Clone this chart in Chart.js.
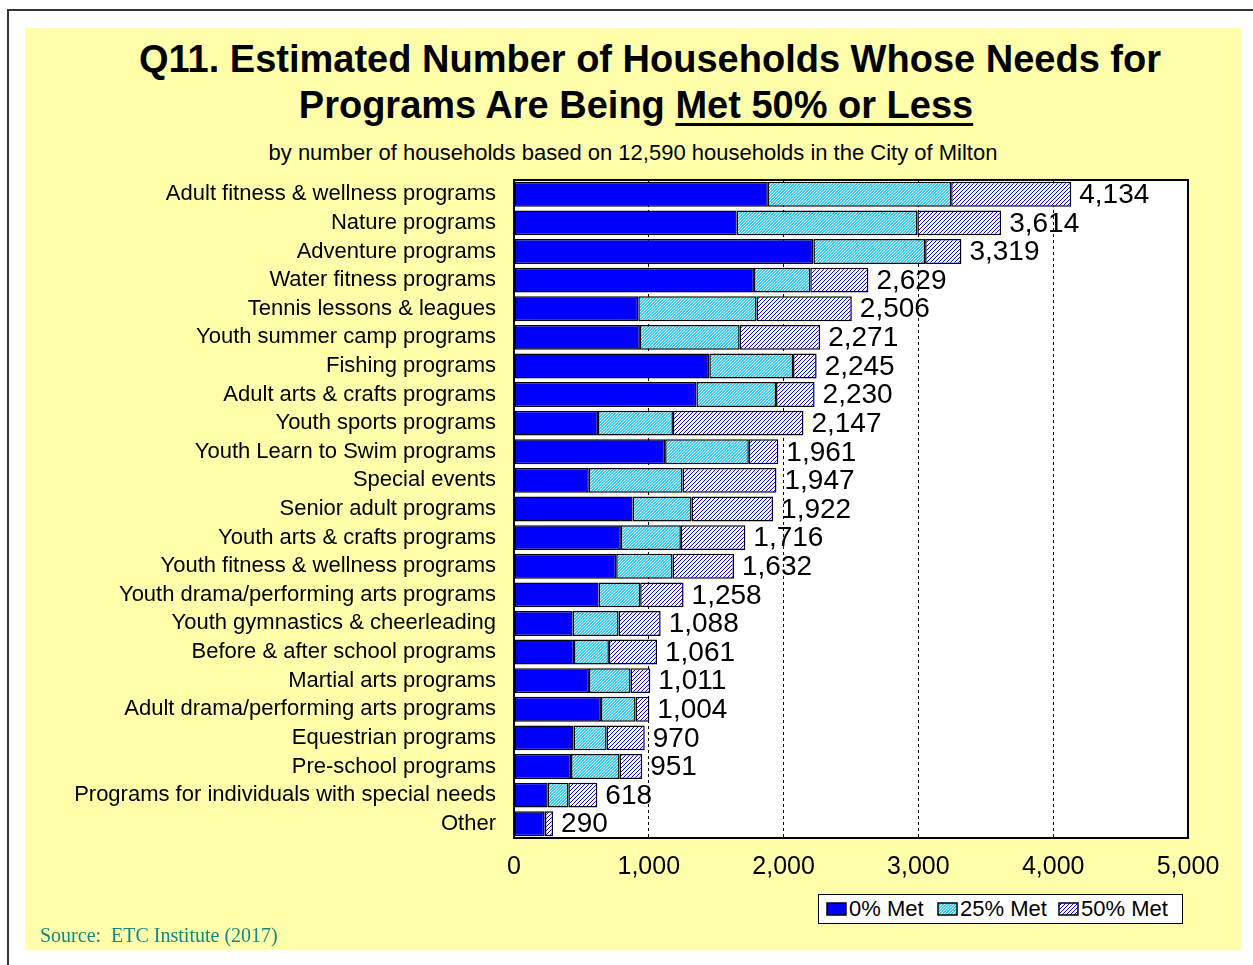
<!DOCTYPE html>
<html>
<head>
<meta charset="utf-8">
<script src="https://cdn.jsdelivr.net/npm/chart.js@4/dist/chart.umd.min.js"></script>
<style>
  html, body { margin: 0; padding: 0; background: #ffffff; }
  body { width: 1253px; height: 965px; position: relative; overflow: hidden; font-family: Arial, "Liberation Sans", sans-serif; }
  #frameTop { position: absolute; left: 7px; top: 9px; width: 1246px; height: 2px; background: #333; }
  #frameLeft { position: absolute; left: 7px; top: 9px; width: 2px; height: 956px; background: #333; }
  #panel { position: absolute; left: 25px; top: 28px; width: 1216px; height: 922px; background: #FFFFAB; }
  .t { position: absolute; white-space: pre; color: #000; }
  #t1 { left: 0; width: 1300px; top: 36px; text-align: center; font-weight: bold; font-size: 38px; line-height: 46px; }
  #t2 { left: 0; width: 1272px; top: 82px; text-align: center; font-weight: bold; font-size: 38px; line-height: 46px; }
  #t2 u { text-decoration-thickness: 3px; text-underline-offset: 5px; }
  #sub { left: 0; width: 1266px; top: 139px; text-align: center; font-size: 22px; line-height: 28px; }
  #src { left: 40px; top: 924px; font-family: "Liberation Serif", "Times New Roman", serif; font-size: 20px; color: #15877F; }
  #chart { position: absolute; left: 0; top: 0; }
  #legend { position: absolute; left: 818px; top: 894px; width: 363px; height: 28px; border: 1px solid #000; background: #fff; }
  .li { position: absolute; top: 0; height: 28px; font-size: 22px; line-height: 28px; white-space: pre; }
  .li canvas { position: absolute; left: 0; top: 7px; }
  .li span { position: absolute; left: 23px; top: 0; }
</style>
</head>
<body>
<div id="frameTop"></div>
<div id="frameLeft"></div>
<div id="panel"></div>
<div class="t" id="t1">Q11. Estimated Number of Households Whose Needs for</div>
<div class="t" id="t2">Programs Are Being <u>Met 50% or Less</u></div>
<div class="t" id="sub">by number of households based on 12,590 households in the City of Milton</div>
<canvas id="chart" width="1253" height="965"></canvas>
<div id="legend">
  <div class="li" style="left:7px"><canvas id="sw0" width="21" height="14"></canvas><span>0% Met</span></div>
  <div class="li" style="left:118px"><canvas id="sw1" width="21" height="14"></canvas><span>25% Met</span></div>
  <div class="li" style="left:239px"><canvas id="sw2" width="21" height="14"></canvas><span>50% Met</span></div>
</div>
<div class="t" id="src">Source:  ETC Institute (2017)</div>

<script>
const categories = [
  "Adult fitness & wellness programs",
  "Nature programs",
  "Adventure programs",
  "Water fitness programs",
  "Tennis lessons & leagues",
  "Youth summer camp programs",
  "Fishing programs",
  "Adult arts & crafts programs",
  "Youth sports programs",
  "Youth Learn to Swim programs",
  "Special events",
  "Senior adult programs",
  "Youth arts & crafts programs",
  "Youth fitness & wellness programs",
  "Youth drama/performing arts programs",
  "Youth gymnastics & cheerleading",
  "Before & after school programs",
  "Martial arts programs",
  "Adult drama/performing arts programs",
  "Equestrian programs",
  "Pre-school programs",
  "Programs for individuals with special needs",
  "Other"
];
const met0 =  [1883, 1652, 2221, 1780,  922,  934, 1449, 1353,  623, 1121,  555,  880,  793,  758,  628,  435,  445,  556,  645,  442,  423,  250, 225];
const met25 = [1360, 1340,  829,  418,  877,  740,  621,  591,  556,  621,  695,  437,  445,  418,  308,  341,  259,  309,  257,  245,  360,  153,   5];
const met50 = [ 891,  622,  269,  431,  707,  597,  175,  286,  968,  219,  697,  605,  478,  456,  322,  312,  357,  146,  102,  283,  168,  215,  60];
const totals = [4134, 3614, 3319, 2629, 2506, 2271, 2245, 2230, 2147, 1961, 1947, 1922, 1716, 1632, 1258, 1088, 1061, 1011, 1004, 970, 951, 618, 290];
const xTicks = [0, 1000, 2000, 3000, 4000, 5000];

// pixel-exact "/" hatch: period p, stripe thickness w (px)
function hatch(bg, fg, p, w) {
  const c = document.createElement('canvas');
  c.width = p; c.height = p;
  const g = c.getContext('2d');
  g.fillStyle = bg; g.fillRect(0, 0, p, p);
  g.fillStyle = fg;
  for (let y = 0; y < p; y++) {
    for (let x = 0; x < p; x++) {
      if ((x + y) % p < w) g.fillRect(x, y, 1, 1);
    }
  }
  return g.createPattern(c, 'repeat');
}
const fill0 = '#0000FF';
const fill25 = hatch('#33CCFF', '#FFFFFF', 3, 1);
const fill50 = hatch('#FFFFFF', '#0000FF', 4, 1);

[fill0, fill25, fill50].forEach((f, i) => {
  const c = document.getElementById('sw' + i);
  const g = c.getContext('2d');
  g.fillStyle = f; g.fillRect(1, 1, 19, 12);
  g.strokeStyle = '#000'; g.lineWidth = 1.5; g.strokeRect(1, 1, 19, 12);
});

const plotDecor = {
  id: 'plotDecor',
  beforeDraw(chart) {
    const a = chart.chartArea, ctx = chart.ctx;
    ctx.save(); ctx.fillStyle = '#FFFFFF';
    ctx.fillRect(a.left, a.top, a.right - a.left, a.bottom - a.top);
    ctx.restore();
  },
  afterDatasetsDraw(chart) {
    const a = chart.chartArea, ctx = chart.ctx;
    const xs = chart.scales.x, ys = chart.scales.y;
    ctx.save();
    ctx.strokeStyle = '#000'; ctx.lineWidth = 2;
    ctx.strokeRect(a.left, a.top, a.right - a.left, a.bottom - a.top);
    ctx.fillStyle = '#000';
    ctx.font = '28px Arial, "Liberation Sans", sans-serif';
    ctx.textAlign = 'left'; ctx.textBaseline = 'middle';
    totals.forEach((t, i) => {
      const x = xs.getPixelForValue(t) + 8;
      const y = ys.getPixelForValue(i);
      ctx.fillText(t.toLocaleString('en-US'), x, y + 1);
    });
    ctx.restore();
  }
};

new Chart(document.getElementById('chart'), {
  type: 'bar',
  data: {
    labels: categories,
    datasets: [
      { label: '0% Met', data: met0, backgroundColor: fill0 },
      { label: '25% Met', data: met25, backgroundColor: fill25 },
      { label: '50% Met', data: met50, backgroundColor: fill50 }
    ].map(d => Object.assign(d, { borderColor: '#000', borderWidth: 1.5, borderSkipped: false, barPercentage: 0.87, categoryPercentage: 1 }))
  },
  options: {
    indexAxis: 'y',
    responsive: false,
    animation: false,
    devicePixelRatio: 1,
    layout: { padding: { left: 0, top: 180, right: 65, bottom: 0 } },
    plugins: { legend: { display: false }, tooltip: { enabled: false }, title: { display: false } },
    scales: {
      x: {
        stacked: true, min: 0, max: 5000,
        afterBuildTicks(scale) { scale.ticks = xTicks.map(v => ({ value: v })); },
        afterFit(scale) { scale.height = 127; },
        ticks: {
          color: '#000', padding: 14, maxRotation: 0, autoSkip: false,
          font: { family: 'Arial, "Liberation Sans", sans-serif', size: 25 },
          callback: v => Number(v).toLocaleString('en-US')
        },
        grid: { color: '#000', lineWidth: 1, drawTicks: false },
        border: { display: true, color: '#000', width: 1, dash: [3, 3] }
      },
      y: {
        stacked: true,
        afterFit(scale) { scale.width = 514; },
        ticks: {
          color: '#000', padding: 18, autoSkip: false,
          font: { family: 'Arial, "Liberation Sans", sans-serif', size: 22 }
        },
        grid: { display: false, drawTicks: false },
        border: { display: false }
      }
    }
  },
  plugins: [plotDecor]
});
</script>
</body>
</html>
